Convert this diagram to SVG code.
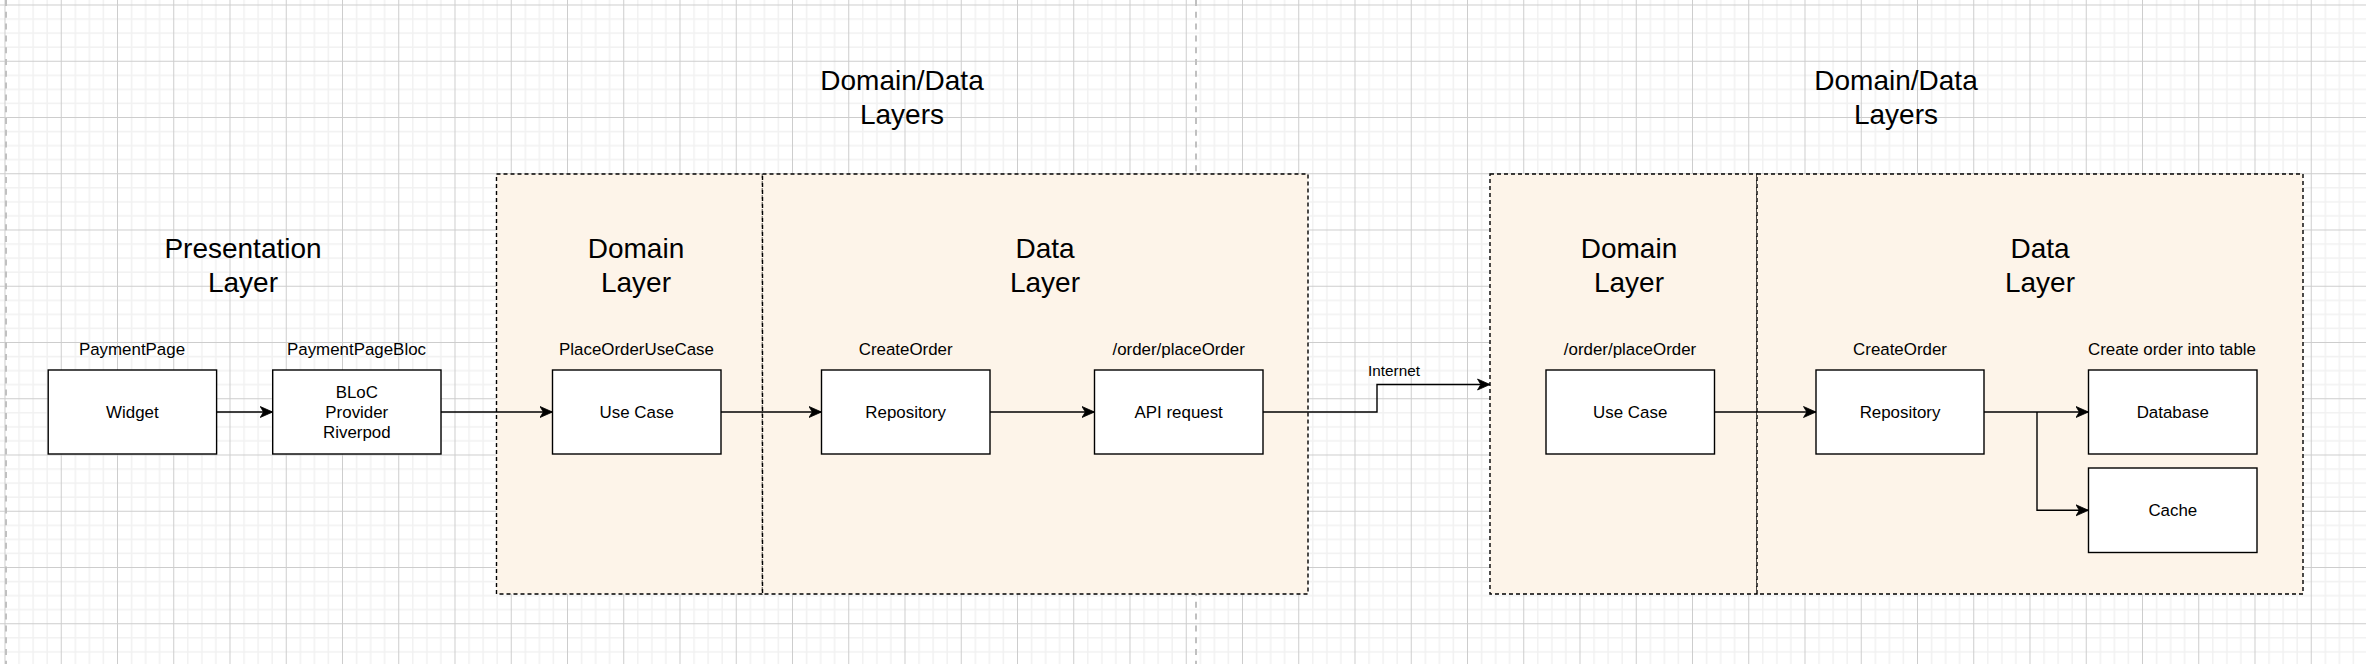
<svg xmlns="http://www.w3.org/2000/svg" width="2366" height="664" viewBox="0 0 2366 664">
<style>
  .title { font-family: "Liberation Sans", Arial, sans-serif; font-size: 28px; fill: #000; text-anchor: middle; }
  .lbl { font-family: "Liberation Sans", Arial, sans-serif; font-size: 16.9px; fill: #000; text-anchor: middle; }
  .edge-lbl { font-family: "Liberation Sans", Arial, sans-serif; font-size: 15.3px; fill: #000; text-anchor: middle; }
  .box { fill: #ffffff; stroke: #000; stroke-width: 1.4; }
  .layer { fill: #fdf4e9; stroke: #000; stroke-width: 1.4; stroke-dasharray: 4 3; }
  .conn { fill: none; stroke: #000; stroke-width: 1.4; }
  .pagebreak { stroke: #c0c0c0; stroke-width: 2; stroke-dasharray: 6 5.8; }
</style>
<defs>
  <pattern id="grid" x="4.5" y="4.5" width="56.25" height="56.25" patternUnits="userSpaceOnUse">
    <rect x="13.8" y="0" width="1.5" height="56.25" fill="#f1f1f1"/>
    <rect x="27.9" y="0" width="1.5" height="56.25" fill="#f1f1f1"/>
    <rect x="41.9" y="0" width="1.5" height="56.25" fill="#f1f1f1"/>
    <rect x="0" y="13.8" width="56.25" height="1.5" fill="#f1f1f1"/>
    <rect x="0" y="27.9" width="56.25" height="1.5" fill="#f1f1f1"/>
    <rect x="0" y="41.9" width="56.25" height="1.5" fill="#f1f1f1"/>
    <rect x="0" y="0" width="1" height="56.25" fill="#cdcdcd"/>
    <rect x="0" y="0" width="56.25" height="1" fill="#cdcdcd"/>
  </pattern>
  <marker id="arrow" markerUnits="userSpaceOnUse" markerWidth="14" markerHeight="14" viewBox="0 0 14 14" refX="13" refY="7" orient="auto">
    <path d="M0.5,1.5 L13,7 L0.5,12.5 L3.8,7 Z" fill="#000" stroke="#000" stroke-width="0.8" stroke-linejoin="miter"/>
  </marker>
</defs>

<g id="background">
  <rect x="0" y="0" width="2366" height="664" fill="#ffffff"/>
  <rect x="0" y="0" width="2366" height="664" fill="url(#grid)"/>
  <line class="pagebreak" x1="6" y1="0" x2="6" y2="664"/>
  <line class="pagebreak" x1="1196" y1="0" x2="1196" y2="664"/>
</g>

<g id="layer-domain-1">
  <rect class="layer" x="496.5" y="174" width="266" height="420"/>
  <text class="title" x="636" y="258">Domain</text>
  <text class="title" x="636" y="292">Layer</text>
</g>
<g id="layer-data-1">
  <rect class="layer" x="762.5" y="174" width="545.5" height="420"/>
  <text class="title" x="1045" y="258">Data</text>
  <text class="title" x="1045" y="292">Layer</text>
</g>
<g id="layer-domain-2">
  <rect class="layer" x="1490" y="174" width="267" height="420"/>
  <text class="title" x="1629" y="258">Domain</text>
  <text class="title" x="1629" y="292">Layer</text>
</g>
<g id="layer-data-2">
  <rect class="layer" x="1757" y="174" width="546" height="420"/>
  <text class="title" x="2040" y="258">Data</text>
  <text class="title" x="2040" y="292">Layer</text>
</g>

<g id="title-presentation">
  <text class="title" x="243" y="258">Presentation</text>
  <text class="title" x="243" y="292">Layer</text>
</g>
<g id="title-domain-data-1">
  <text class="title" x="902" y="90">Domain/Data</text>
  <text class="title" x="902" y="124">Layers</text>
</g>
<g id="title-domain-data-2">
  <text class="title" x="1896" y="90">Domain/Data</text>
  <text class="title" x="1896" y="124">Layers</text>
</g>

<g id="connectors">
  <line class="conn" x1="216.6" y1="412" x2="272.7" y2="412" marker-end="url(#arrow)"/>
  <line class="conn" x1="441" y1="412" x2="552.5" y2="412" marker-end="url(#arrow)"/>
  <line class="conn" x1="721" y1="412" x2="821.5" y2="412" marker-end="url(#arrow)"/>
  <line class="conn" x1="990" y1="412" x2="1094.5" y2="412" marker-end="url(#arrow)"/>
  <path class="conn" d="M1263,412 H1377 V384.5 H1490" marker-end="url(#arrow)"/>
  <text class="edge-lbl" x="1394" y="376">Internet</text>
  <line class="conn" x1="1714.5" y1="412" x2="1816" y2="412" marker-end="url(#arrow)"/>
  <line class="conn" x1="1984" y1="412" x2="2088.5" y2="412" marker-end="url(#arrow)"/>
  <path class="conn" d="M2037,412 V510.3 H2088.5" marker-end="url(#arrow)"/>
</g>

<g id="node-widget">
  <text class="lbl" x="132" y="355">PaymentPage</text>
  <rect class="box" x="48.2" y="370" width="168.4" height="84"/>
  <text class="lbl" x="132.4" y="418">Widget</text>
</g>
<g id="node-bloc">
  <text class="lbl" x="356.5" y="355">PaymentPageBloc</text>
  <rect class="box" x="272.7" y="370" width="168.3" height="84"/>
  <text class="lbl" x="356.8" y="397.7">BLoC</text>
  <text class="lbl" x="356.8" y="418">Provider</text>
  <text class="lbl" x="356.8" y="438.2">Riverpod</text>
</g>
<g id="node-usecase-1">
  <text class="lbl" x="636.5" y="355">PlaceOrderUseCase</text>
  <rect class="box" x="552.5" y="370" width="168.5" height="84"/>
  <text class="lbl" x="636.7" y="418">Use Case</text>
</g>
<g id="node-repository-1">
  <text class="lbl" x="905.7" y="355">CreateOrder</text>
  <rect class="box" x="821.5" y="370" width="168.5" height="84"/>
  <text class="lbl" x="905.7" y="418">Repository</text>
</g>
<g id="node-api">
  <text class="lbl" x="1178.7" y="355">/order/placeOrder</text>
  <rect class="box" x="1094.5" y="370" width="168.5" height="84"/>
  <text class="lbl" x="1178.7" y="418">API request</text>
</g>
<g id="node-usecase-2">
  <text class="lbl" x="1630" y="355">/order/placeOrder</text>
  <rect class="box" x="1546" y="370" width="168.5" height="84"/>
  <text class="lbl" x="1630.2" y="418">Use Case</text>
</g>
<g id="node-repository-2">
  <text class="lbl" x="1900" y="355">CreateOrder</text>
  <rect class="box" x="1816" y="370" width="168" height="84"/>
  <text class="lbl" x="1900" y="418">Repository</text>
</g>
<g id="node-database">
  <text class="lbl" x="2172" y="355">Create order into table</text>
  <rect class="box" x="2088.5" y="370" width="168.5" height="84"/>
  <text class="lbl" x="2172.8" y="418">Database</text>
</g>
<g id="node-cache">
  <rect class="box" x="2088.5" y="468" width="168.5" height="84.5"/>
  <text class="lbl" x="2172.8" y="516.3">Cache</text>
</g>
</svg>
